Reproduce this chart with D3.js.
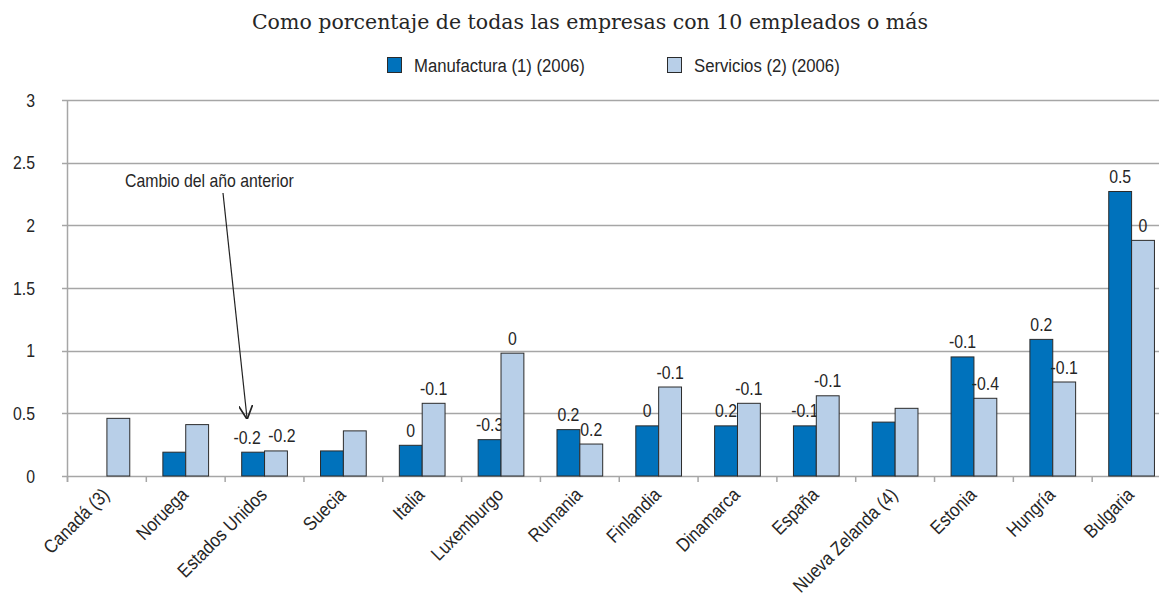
<!DOCTYPE html>
<html>
<head>
<meta charset="utf-8">
<script src="https://cdn.jsdelivr.net/npm/d3@7"></script>
<style>
  body { margin: 0; background: #fff; }
  svg text { fill: #262626; }
</style>
</head>
<body>
<div id="graph"></div>
<script>
var countries = ["Canadá (3)", "Noruega", "Estados Unidos", "Suecia", "Italia", "Luxemburgo", "Rumania",
                 "Finlandia", "Dinamarca", "España", "Nueva Zelanda (4)", "Estonia", "Hungría", "Bulgaria"];
var manufactura = [null, 0.19, 0.19, 0.20, 0.245, 0.29, 0.37, 0.40, 0.40, 0.40, 0.43, 0.95, 1.09, 2.27];
var servicios = [0.46, 0.41, 0.20, 0.36, 0.58, 0.98, 0.255, 0.71, 0.58, 0.64, 0.54, 0.62, 0.75, 1.88];
var cambioManufactura = [null, null, "-0.2", null, "0", "-0.3", "0.2", "0", "0.2", "-0.1", null, "-0.1", "0.2", "0.5"];
var cambioServicios = [null, null, "-0.2", null, "-0.1", "0", "0.2", "-0.1", "-0.1", "-0.1", null, "-0.4", "-0.1", "0"];
var yTicks = [0, 0.5, 1, 1.5, 2, 2.5, 3];
var seriesNames = ["Manufactura (1) (2006)", "Servicios (2) (2006)"];

var width = 1159, height = 596;
var sans = "'Liberation Sans', Arial, sans-serif";
var squeeze = 0.88;
var colors = ["#0072bc", "#b8cfe8"];

var svg = d3.select("#graph").append("svg")
    .attr("width", width)
    .attr("height", height);

// condensed text: Liberation Sans squeezed horizontally
function narrowText(parent, x, y, str, size, anchor, angle) {
    var g = parent.append("g")
        .attr("transform", "translate(" + x + "," + y + ")" + (angle ? " rotate(" + angle + ")" : ""));
    return g.append("text")
        .attr("transform", "scale(" + squeeze + ",1)")
        .style("text-anchor", anchor || "start")
        .attr("font-family", sans)
        .attr("font-size", size)
        .text(str);
}

var x = d3.scaleBand()
    .domain(countries)
    .range([67.5, 1171]);

var x1 = d3.scaleBand()
    .domain([0, 1])
    .range([x.bandwidth() * 0.21, x.bandwidth() * 0.79]);

var y = d3.scaleLinear()
    .domain([0, 3])
    .range([476, 100]);

// gridlines
svg.selectAll(".grid")
    .data(yTicks)
    .enter()
    .append("line")
    .attr("x1", 62)
    .attr("x2", width)
    .attr("y1", function(d) { return Math.round(y(d)) + 0.5; })
    .attr("y2", function(d) { return Math.round(y(d)) + 0.5; })
    .attr("stroke", "#a6a6a6")
    .attr("stroke-width", 1.5);

yTicks.forEach(function(d) {
    narrowText(svg, 35, y(d) + 6.5, d, 18, "end");
});

svg.append("line")
    .attr("x1", 67.5).attr("x2", 67.5)
    .attr("y1", y(3)).attr("y2", y(0) + 6)
    .attr("stroke", "#a6a6a6")
    .attr("stroke-width", 1.5);

// category ticks
svg.selectAll(".xtick")
    .data(countries)
    .enter()
    .append("line")
    .attr("x1", function(d) { return x(d); })
    .attr("x2", function(d) { return x(d); })
    .attr("y1", y(0))
    .attr("y2", y(0) + 6)
    .attr("stroke", "#a6a6a6")
    .attr("stroke-width", 1.5);

// bars
var series = [manufactura, servicios];
var cambios = [cambioManufactura, cambioServicios];

countries.forEach(function(c, i) {
    // pairs of labels at nearly equal height get pushed apart
    var crowded = manufactura[i] != null && Math.abs(manufactura[i] - servicios[i]) < 0.05;
    [0, 1].forEach(function(s) {
        var v = series[s][i];
        if (v == null) return;
        svg.append("rect")
            .attr("x", x(c) + x1(s))
            .attr("width", x1.bandwidth())
            .attr("y", y(v))
            .attr("height", y(0) - y(v))
            .attr("fill", colors[s])
            .attr("stroke", "#2b2b2b")
            .attr("stroke-width", 1);
        if (cambios[s][i] != null) {
            var nudge = crowded ? (s === 0 ? -6 : 6) : 0;
            narrowText(svg, x(c) + x1(s) + x1.bandwidth() / 2 + nudge, y(v) - 8.5, cambios[s][i], 18, "middle");
        }
    });
});

// x labels
countries.forEach(function(c) {
    narrowText(svg, x(c) + x.bandwidth() / 2 + 3.5, 496, c, 19, "end", -45);
});

// title
svg.append("text")
    .attr("x", 590)
    .attr("y", 29)
    .style("text-anchor", "middle")
    .attr("font-family", "'DejaVu Serif', 'Liberation Serif', serif")
    .attr("font-size", 20.5)
    .attr("fill", "#333")
    .text("Como porcentaje de todas las empresas con 10 empleados o más");

// legend
var legendX = [387, 667];
seriesNames.forEach(function(name, i) {
    svg.append("rect")
        .attr("x", legendX[i] + 0.5)
        .attr("y", 57.5)
        .attr("width", 14)
        .attr("height", 15)
        .attr("fill", colors[i])
        .attr("stroke", "#2b2b2b");
    narrowText(svg, legendX[i] + 27, 72, name, 19, "start");
});

// annotation
svg.append("defs").append("marker")
    .attr("id", "arrow")
    .attr("viewBox", "0 0 10 10")
    .attr("refX", 9).attr("refY", 5)
    .attr("markerWidth", 14).attr("markerHeight", 14)
    .attr("markerUnits", "userSpaceOnUse")
    .attr("orient", "auto")
    .append("path")
    .attr("d", "M0,0 L10,5 L0,10")
    .attr("fill", "none")
    .attr("stroke", "#222")
    .attr("stroke-width", 1.2);

narrowText(svg, 125, 187, "Cambio del año anterior", 18, "start");

svg.append("line")
    .attr("x1", 223).attr("y1", 193)
    .attr("x2", 247).attr("y2", 418)
    .attr("stroke", "#222")
    .attr("stroke-width", 1.2)
    .attr("marker-end", "url(#arrow)");
</script>
</body>
</html>
